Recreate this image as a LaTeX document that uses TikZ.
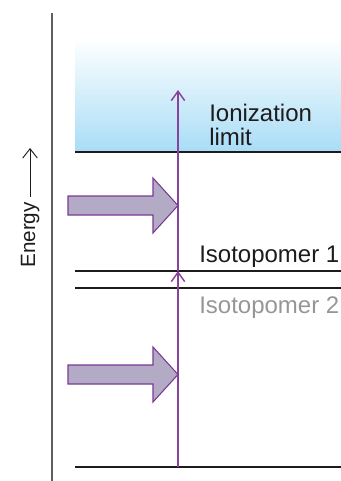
\documentclass[tikz,border=0pt]{standalone}
\usepackage{fontspec}
\setmainfont{Liberation Sans}
\usetikzlibrary{arrows.meta,positioning}
\definecolor{levelblack}{RGB}{30,27,28}
\definecolor{axisgray}{RGB}{95,95,95}
\definecolor{laserpurple}{RGB}{136,68,156}
\definecolor{beamedge}{RGB}{122,58,145}
\definecolor{beamfill}{RGB}{179,170,198}
\definecolor{limitblue}{RGB}{168,221,246}
\definecolor{isogray}{RGB}{150,150,150}

\begin{document}
\begin{tikzpicture}[
  x=0.75pt, y=-0.75pt,
  >={Straight Barb[length=7pt,width=10pt]},
  level/.style={draw=levelblack, line width=2pt},
  lbl/.style={font=\fontsize{18}{18}\selectfont, text=levelblack, inner sep=0pt, align=left},
  laser/.style={draw=laserpurple, line width=1.1pt},
  beam/.style={draw=beamedge, fill=beamfill, line width=0.8pt, line join=miter}
]
\useasboundingbox (0,0) rectangle (341,481);

% continuum above the ionization limit
\shade[top color=white, bottom color=limitblue] (75,38) rectangle (341,152);

% energy axis
\draw[axisgray, line width=1.3pt] (52,13) -- (52,481);
\node[rotate=90, anchor=base west, inner sep=0pt, font=\fontsize{15.5}{16}\selectfont, text=levelblack] (energy) at (35,268) {Energy};
\coordinate (energytip) at (27,148);
\draw[->, levelblack, line width=0.7pt, >={Straight Barb[length=7pt,width=11pt]}] ([yshift=4pt]energy.east) -- (energy.east |- energytip);

% levels
\draw[level] (75,152) -- (341,152);
\draw[level] (75,271) -- (341,271);
\draw[level] (75,288) -- (341,288);
\draw[level] (75,467) -- (341,467);

% labels
\node[lbl, anchor=south west] (ionlabel) at (209,146) {Ionization\\limit};
\node[lbl, anchor=base west] (iso1label) at (199,262) {Isotopomer 1};
\node[lbl, anchor=base west, text=isogray] (iso2label) at (199,313) {Isotopomer 2};

% two-step excitation
\coordinate (ground) at (178,467);
\coordinate (iso1) at (178,271);
\coordinate (ion) at (178,90);
\draw[laser, ->] (ground) -- (iso1);
\draw[laser, ->] (iso1) -- (ion);

% laser beams
\foreach \yc in {205.5,374.5}
  \draw[beam] (68,\yc-9.5) -- (153,\yc-9.5) -- (153,\yc-27.5) -- (178,\yc)
    -- (153,\yc+27.5) -- (153,\yc+9.5) -- (68,\yc+9.5) -- cycle;
\end{tikzpicture}
\end{document}
